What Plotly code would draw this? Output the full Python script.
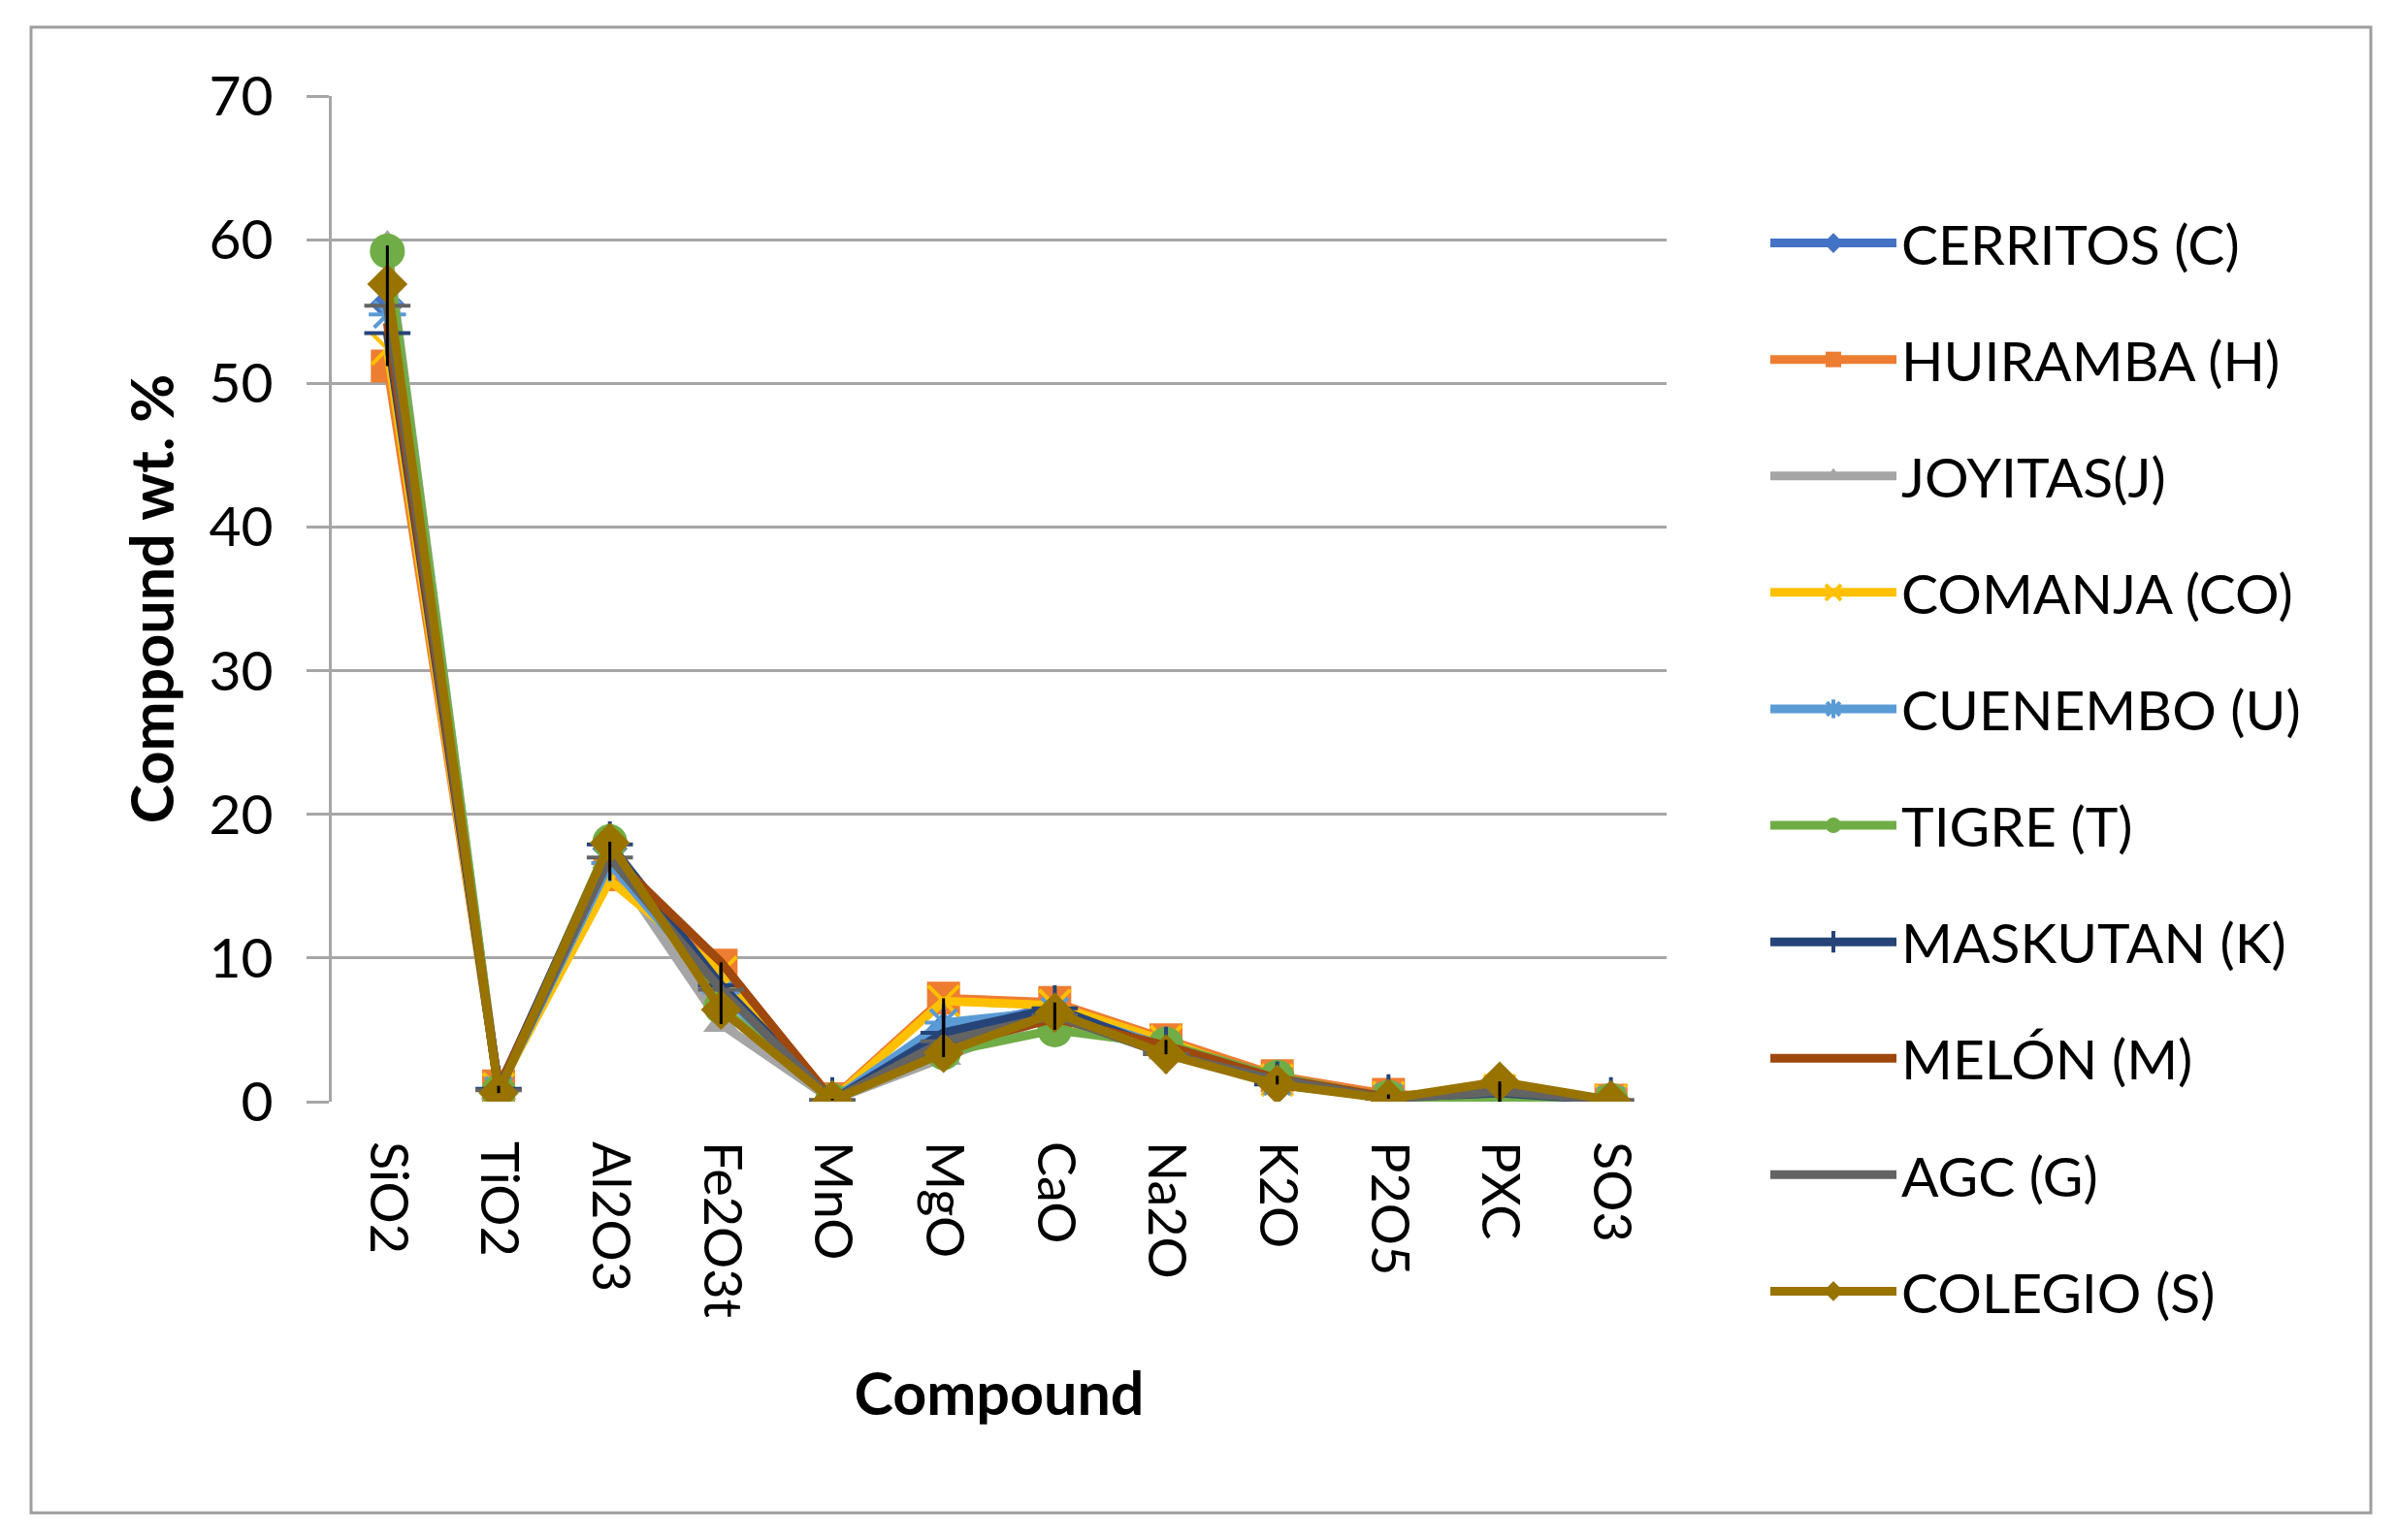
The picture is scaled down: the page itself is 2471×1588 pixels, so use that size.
import plotly.graph_objects as go

categories = ["SiO2", "TiO2", "Al2O3", "Fe2O3t", "MnO", "MgO", "CaO", "Na2O", "K2O", "P2O5", "PXC", "SO3"]

cerritos = [55.5, 0.8, 17.6, 8.4, 0.1, 5.0, 6.6, 3.9, 1.3, 0.3, 0.4, 0.1]
huiramba = [51.2, 1.1, 15.8, 9.5, 0.2, 7.2, 6.9, 4.3, 1.8, 0.5, 0.3, 0.1]
joyitas = [59.6, 0.7, 16.8, 5.4, 0.1, 3.1, 6.0, 3.5, 1.6, 0.2, 0.4, 0.1]
comanja = [52.4, 0.9, 15.4, 9.0, 0.1, 7.0, 6.7, 4.2, 1.5, 0.3, 0.8, 0.1]
cuenembo = [54.8, 0.8, 16.6, 7.6, 0.1, 5.5, 6.3, 3.8, 1.4, 0.3, 0.3, 0.1]
tigre = [59.2, 0.7, 18.1, 6.6, 0.1, 3.4, 5.0, 4.0, 1.7, 0.3, 0.0, 0.1]
maskutan = [53.5, 0.9, 17.9, 8.1, 0.1, 4.8, 6.5, 3.6, 1.2, 0.3, 0.6, 0.1]
melon = [54.2, 1.0, 17.2, 9.7, 0.1, 3.8, 5.8, 3.9, 1.6, 0.3, 1.0, 0.1]
agc = [55.4, 0.8, 17.0, 7.8, 0.1, 4.2, 6.0, 3.3, 1.5, 0.2, 0.7, 0.1]
colegio = [56.9, 0.6, 18.0, 6.4, 0.1, 3.4, 6.2, 3.3, 1.2, 0.2, 1.4, 0.1]

series_names = ["CERRITOS (C)", "HUIRAMBA (H)", "JOYITAS(J)", "COMANJA (CO)", "CUENEMBO (U)",
                "TIGRE (T)", "MASKUTAN (K)", "MELÓN (M)", "AGC (G)", "COLEGIO (S)"]
series_values = [cerritos, huiramba, joyitas, comanja, cuenembo, tigre, maskutan, melon, agc, colegio]
colors = ["#4472C4", "#ED7D31", "#A5A5A5", "#FFC000", "#5B9BD5",
          "#70AD47", "#264478", "#9E480E", "#636363", "#997300"]
symbols = ["diamond", "square", "triangle-up", "x-thin-open", "asterisk-open",
           "circle", "cross-thin-open", None, "line-ew-open", "diamond"]
sizes = [28, 34, 32, 32, 32, 36, 34, 0, 34, 32]

FONT = "Lato"

fig = go.Figure()
for name, vals, col, sym, sz in zip(series_names, series_values, colors, symbols, sizes):
    if sym is None:
        fig.add_trace(go.Scatter(x=categories, y=vals, name=name, mode="lines",
                                 line=dict(color=col, width=9), legendgroup=name))
    else:
        open_sym = sym.endswith("open")
        fig.add_trace(go.Scatter(
            x=categories, y=vals, name=name, mode="lines+markers",
            line=dict(color=col, width=9),
            marker=dict(symbol=sym, size=sz, color=col,
                        line=dict(color=col, width=(4 if open_sym else 0))),
            legendgroup=name))

# high-low lines (max to min per category)
hx, hy = [], []
for i, c in enumerate(categories):
    col_vals = [v[i] for v in series_values]
    hx += [c, c, None]
    hy += [max(col_vals), min(col_vals), None]
fig.add_trace(go.Scatter(x=hx, y=hy, mode="lines", line=dict(color="black", width=3),
                         showlegend=False, hoverinfo="skip"))

# page has an 8px body margin, so the figure is offset accordingly
W, H = 2455, 1572
L, R, T, B = 334, 1710, 91, 1128

fig.update_layout(
    width=W, height=H,
    margin=dict(l=L, r=W - R, t=T, b=H - B, autoexpand=False),
    paper_bgcolor="white", plot_bgcolor="white",
    font=dict(family=FONT, size=57, color="black"),
    legend=dict(
        xref="container", yref="container", x=1812 / W, y=1 - 783 / H,
        xanchor="left", yanchor="middle",
        font=dict(family=FONT, size=57, color="black"),
        itemwidth=130, tracegroupgap=43, bgcolor="rgba(0,0,0,0)",
        maxheight=1500,
    ),
    showlegend=True,
)

fig.update_xaxes(
    type="category", range=[-0.5, 11.5], showgrid=False, zeroline=False,
    showline=False, tickangle=90, ticks="", ticklabelstandoff=40,
    tickfont=dict(family=FONT, size=54, color="black"),
    title=dict(text="<b>Compound</b>", font=dict(family=FONT, size=61, color="black"), standoff=58),
)
fig.update_yaxes(
    range=[0, 70], dtick=10, showgrid=True, gridcolor="#A6A6A6", gridwidth=3,
    zeroline=False, showline=True, linecolor="#A6A6A6", linewidth=3,
    ticks="outside", ticklen=23, tickwidth=3, tickcolor="#A6A6A6", ticklabelstandoff=23,
    tickfont=dict(family=FONT, size=57, color="black"),
    title=dict(text="<b>Compound wt. %</b>", font=dict(family=FONT, size=61, color="black"), standoff=17),
)

# chart border
pw, ph = R - L, B - T
fig.add_shape(type="rect", xref="paper", yref="paper",
              x0=(24 - L) / pw, x1=(2436 - L) / pw,
              y0=(B - 1552) / ph, y1=(B - 20) / ph,
              line=dict(color="#9E9E9E", width=3), fillcolor="rgba(0,0,0,0)", layer="below")

fig.write_html("out.html")
